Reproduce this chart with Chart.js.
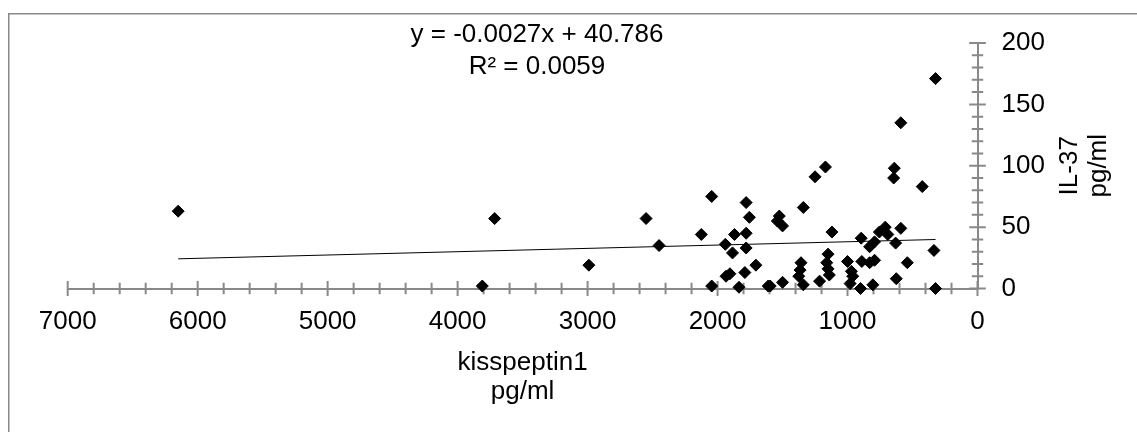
<!DOCTYPE html>
<html><head><meta charset="utf-8">
<script src="https://cdn.jsdelivr.net/npm/chart.js@4/dist/chart.umd.min.js"></script>
<style>html,body{margin:0;padding:0;background:#fff;overflow:hidden}#wrap{position:relative;width:1137px;height:432px}</style>
</head><body><div id="wrap"><canvas id="c" width="1137" height="432"></canvas></div>
<script>
// ---- data ----
const kisspeptin = [6150,3715,3810,2990,2550,2450,2125,2045,2045,1940,1935,1905,1885,1870,1835,1790,1780,1780,1780,1755,1705,1610,1595,1525,1540,1500,1500,1375,1365,1358,1340,1340,1250,1215,1170,1150,1160,1150,1140,1120,1000,970,960,980,900,895,890,830,830,792,792,805,755,710,690,630,590,640,645,590,540,625,425,335,323,323];
const il37 =       [63,57,2,19,57,35,44,75,2,36,10,12,29,44,1,13,33,45,70,58,19,2,2,59,55,51,5,10,15,21,3,66,91,6,99,28,21,16,11,46,22,14,10,4,0,41,22,34,21,38,23,3,46,50,44,37,49,98,90,135,21,8,83,31,0,171];
const xTickValues = [7000,6000,5000,4000,3000,2000,1000,0];
const yTickValues = [0,50,100,150,200];
const trendSlope = -0.0027, trendIntercept = 40.786;
const equationLines = ['y = -0.0027x + 40.786', 'R\u00B2 = 0.0059'];
const xTitleLines = ['kisspeptin1', 'pg/ml'];
const yTitleLines = ['IL-37', 'pg/ml'];

const FONT = '"Liberation Sans", Arial, sans-serif';
const GRAY = '#898989';

const points = kisspeptin.map((x, i) => ({x: x, y: il37[i]}));
const xMin = Math.min(...kisspeptin), xMax = Math.max(...kisspeptin);
const trend = [xMax, xMin].map(x => ({x: x, y: trendSlope * x + trendIntercept}));

const decor = {
  id: 'decor',
  beforeDraw(chart) {
    const ctx = chart.ctx;
    ctx.save();
    ctx.strokeStyle = GRAY; ctx.lineWidth = 1.5;
    ctx.beginPath();
    ctx.moveTo(8.75, 432); ctx.lineTo(8.75, 13.75); ctx.lineTo(1137, 13.75);
    ctx.stroke();
    ctx.restore();
  },
  beforeDatasetsDraw(chart) {
    const ctx = chart.ctx, xs = chart.scales.x, ys = chart.scales.y;
    const y0 = ys.getPixelForValue(0), x0 = xs.getPixelForValue(0);
    ctx.save();
    ctx.strokeStyle = GRAY; ctx.lineWidth = 2;
    ctx.beginPath();
    for (let v = 0; v <= 7000; v += 200) {
      const p = xs.getPixelForValue(v), h = (v % 1000 === 0) ? 7.5 : 5.8;
      ctx.moveTo(p, y0 - h); ctx.lineTo(p, y0 + h);
    }
    for (let v = 0; v <= 200; v += 10) {
      const p = ys.getPixelForValue(v), h = (v % 50 === 0) ? 8.3 : 5.7;
      ctx.moveTo(x0 - h, p); ctx.lineTo(x0 + h, p);
    }
    ctx.stroke();
    ctx.restore();
  },
  afterDraw(chart) {
    const ctx = chart.ctx, a = chart.chartArea;
    ctx.save();
    ctx.fillStyle = '#000';
    ctx.font = '26px ' + FONT;
    ctx.textAlign = 'center'; ctx.textBaseline = 'alphabetic';
    // trendline equation label
    ctx.fillText(equationLines[0], 537, 42);
    ctx.fillText(equationLines[1], 537, 74);
    // x title
    const cx = (a.left + a.right) / 2;
    ctx.fillText(xTitleLines[0], cx, 370);
    ctx.fillText(xTitleLines[1], cx, 399);
    // y title, rotated to read bottom-to-top
    const cy = (a.top + a.bottom) / 2;
    ctx.translate(1077, cy); ctx.rotate(-Math.PI / 2);
    ctx.fillText(yTitleLines[0], 0, 0);
    ctx.fillText(yTitleLines[1], 0, 29);
    ctx.restore();
  }
};

new Chart(document.getElementById('c'), {
  type: 'scatter',
  data: {
    datasets: [
      {label: 'IL-37', data: points, pointStyle: 'rectRot', pointRadius: 6, pointHoverRadius: 6,
       backgroundColor: '#000', borderColor: '#000', borderWidth: 1, clip: false},
      {label: 'trend', data: trend, showLine: true, pointRadius: 0, borderColor: '#000',
       borderWidth: 1, fill: false, clip: false}
    ]
  },
  options: {
    responsive: false, animation: false, devicePixelRatio: 1,
    layout: {padding: {left: 67.7, top: 43, right: 0, bottom: 0}},
    plugins: {legend: {display: false}, tooltip: {enabled: false}, title: {display: false}},
    scales: {
      x: {
        type: 'linear', reverse: true, min: 0, max: 7000,
        afterBuildTicks: s => { s.ticks = xTickValues.map(v => ({value: v})); },
        afterFit: s => { s.height = 432 - 288.5; },
        grid: {display: false, drawTicks: false, tickLength: 0},
        border: {display: true, color: GRAY, width: 2},
        ticks: {padding: 18, color: '#000', font: {family: FONT, size: 26}, maxRotation: 0, autoSkip: false,
                callback: v => String(v)}
      },
      y: {
        type: 'linear', position: 'right', min: 0, max: 200,
        afterBuildTicks: s => { s.ticks = yTickValues.map(v => ({value: v})); },
        afterFit: s => { s.width = 1137 - 977.5; },
        grid: {display: false, drawTicks: false, tickLength: 0},
        border: {display: true, color: GRAY, width: 2},
        ticks: {padding: 24, color: '#000', font: {family: FONT, size: 26}, autoSkip: false,
                callback: v => String(v)}
      }
    }
  },
  plugins: [decor]
});
</script></body></html>
